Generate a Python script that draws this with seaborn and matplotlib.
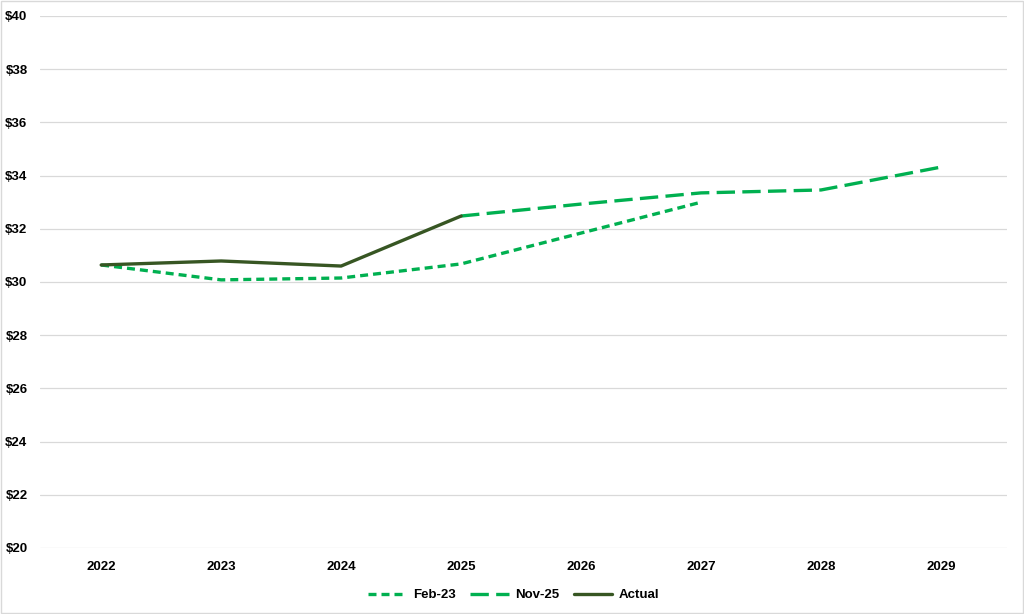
import pandas as pd
import matplotlib.pyplot as plt
import seaborn as sns

years = [2022, 2023, 2024, 2025, 2026, 2027, 2028, 2029]
feb23_years = [2022, 2023, 2024, 2025, 2026, 2027]
feb23 = [30.64, 30.08, 30.15, 30.68, 31.84, 33.00]
nov25_years = [2025, 2026, 2027, 2028, 2029]
nov25 = [32.48, 32.93, 33.35, 33.46, 34.32]
actual_years = [2022, 2023, 2024, 2025]
actual = [30.64, 30.79, 30.60, 32.48]

GREEN = '#00B050'
DARK = '#375623'


def main():
    sns.set_style('white')
    plt.rcParams['font.family'] = ['Liberation Sans', 'DejaVu Sans']
    plt.rcParams['text.color'] = 'black'
    plt.rcParams['xtick.color'] = 'black'
    plt.rcParams['ytick.color'] = 'black'

    fig = plt.figure(figsize=(10.24, 6.14), dpi=100)
    ax = fig.add_axes([40 / 1024, 66 / 614, 967 / 1024, 532 / 614])

    sns.lineplot(x=feb23_years, y=feb23, ax=ax, color=GREEN, lw=2.4,
                 label='Feb-23')
    ax.lines[-1].set_dashes((2.4, 1.5))
    sns.lineplot(x=nov25_years, y=nov25, ax=ax, color=GREEN, lw=2.4,
                 label='Nov-25')
    ax.lines[-1].set_dashes((5.5, 2.2))
    sns.lineplot(x=actual_years, y=actual, ax=ax, color=DARK, lw=2.4,
                 label='Actual')

    ax.set_xlim(2021.49, 2029.55)
    ax.set_ylim(20, 40)
    ax.set_yticks(range(20, 41, 2))
    ax.set_yticklabels([f'${v}' for v in range(20, 41, 2)])
    ax.set_xticks(years)
    ax.set_xticklabels([str(y) for y in years])
    ax.grid(axis='y', color='#d9d9d9', lw=0.9)
    ax.grid(axis='x', visible=False)
    for s in ax.spines.values():
        s.set_visible(False)
    ax.tick_params(axis='both', length=0, labelsize=9.5, labelcolor='black')
    ax.tick_params(axis='x', pad=9)
    ax.tick_params(axis='y', pad=9)
    for lab in ax.get_xticklabels() + ax.get_yticklabels():
        lab.set_fontweight('bold')

    leg = ax.legend(loc='upper center', bbox_to_anchor=(0.49, -0.055), ncol=3,
                    frameon=False, fontsize=9.5, handlelength=2.9,
                    columnspacing=1.1, handletextpad=0.5)
    for t in leg.get_texts():
        t.set_fontweight('bold')
        t.set_color('black')

    fig.patches.append(plt.Rectangle((0.001, 0.001), 0.998, 0.998,
                                     transform=fig.transFigure, fill=False,
                                     edgecolor='#d9d9d9', lw=1))
    fig.savefig('out.png', dpi=100)
    plt.close(fig)


if __name__ == '__main__':
    main()
